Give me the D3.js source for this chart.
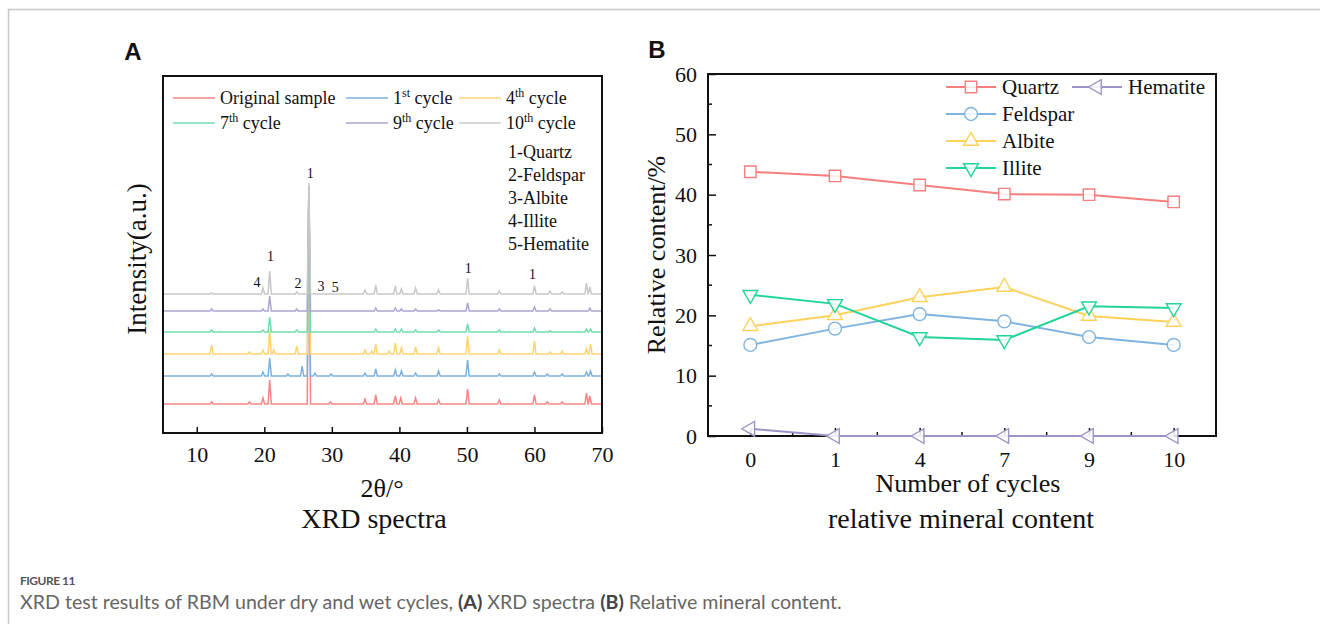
<!DOCTYPE html>
<html>
<head>
<meta charset="utf-8">
<script src="https://cdn.jsdelivr.net/npm/d3@7/dist/d3.min.js"></script>
<style>
  body { margin: 0; background: #fff; }
  svg text { font-family: "Liberation Serif", "Times New Roman", serif; fill: #111; }
  svg .cap { font-family: Lato, "Open Sans", sans-serif; }
  svg .panel { font-family: "Liberation Sans", Arial, sans-serif; font-weight: bold; }
</style>
</head>
<body>
<svg width="1320" height="624"></svg>
<script>
// ---- panel A : XRD spectra (peaks, [2theta, height]) ----
var spectraNames = ["Original sample", "1st cycle", "4th cycle", "7th cycle", "9th cycle", "10th cycle"];
var spectraColors = ["#f98585", "#7eb0dc", "#ffd470", "#70dcae", "#aaa6d2", "#c8c8c8"];
var spectraOffsets = [29, 57, 79, 101, 122, 139];

var peaksOriginal = [[12.2,2],[17.8,2],[19.8,6],[20.8,24],[26.6,215],[29.8,2],[34.9,5],[36.5,9],[39.4,8],[40.2,6],[42.4,6],[45.8,4],[50.1,15],[54.8,4],[60.0,9],[61.9,2],[64.1,2],[67.7,11],[68.2,8]];
var peaks1st = [[12.2,2],[19.8,4],[20.8,18],[23.5,2],[25.6,10],[26.6,190],[27.5,3],[29.9,2],[34.9,3],[36.5,7],[39.4,6],[40.3,5],[42.4,3],[45.8,5],[50.1,16],[54.8,2],[60.0,4],[61.9,2],[64.1,2],[67.7,4],[68.3,5]];
var peaks4th = [[12.2,9],[17.8,2],[19.8,4],[20.8,24],[21.4,4],[24.8,8],[26.6,165],[34.9,4],[35.9,3],[36.5,10],[38.5,3],[39.4,11],[40.3,6],[42.4,7],[45.8,6],[50.1,18],[54.8,4],[60.0,13],[62.3,2],[64.1,3],[67.7,5],[68.3,10]];
var peaks7th = [[12.2,2],[19.8,2],[20.8,15],[24.8,2],[26.6,145],[36.5,3],[39.4,3],[40.3,3],[42.4,2],[45.8,2],[50.1,8],[54.8,2],[60.0,4],[62.3,1],[67.7,3],[68.3,3]];
var peaks9th = [[12.2,2],[19.8,2],[20.8,15],[24.8,2],[26.6,125],[36.5,3],[39.4,3],[40.3,2],[42.4,2],[45.8,1],[50.1,8],[54.8,2],[60.0,4],[62.3,2],[68.2,3]];
var peaks10th = [[12.2,1],[19.8,6],[20.8,23],[24.8,2],[26.6,111],[34.9,4],[36.5,9],[39.4,8],[40.3,5],[42.4,6],[45.8,4],[50.1,16],[54.8,3],[60.0,8],[62.3,3],[64.1,2],[67.7,11],[68.2,7]];
var spectraPeaks = [peaksOriginal, peaks1st, peaks4th, peaks7th, peaks9th, peaks10th];

var xTicksA = [10, 20, 30, 40, 50, 60, 70];
var peakLabelText = ["1", "1", "4", "2", "3", "5", "1", "1"];
var peakLabelTheta = [26.8, 20.9, 18.9, 25.0, 28.4, 30.5, 50.2, 59.7];
var peakLabelLevel = [260, 177, 151, 150, 147, 146, 165, 159];
var mineralList = ["1-Quartz", "2-Feldspar", "3-Albite", "4-Illite", "5-Hematite"];

// ---- panel B : relative mineral content ----
var cycles = ["0", "1", "4", "7", "9", "10"];
var quartz = [43.8, 43.1, 41.6, 40.1, 40.0, 38.8];
var feldspar = [15.1, 17.8, 20.2, 19.0, 16.4, 15.1];
var albite = [18.2, 20.0, 23.0, 24.7, 19.9, 18.9];
var illite = [23.4, 21.9, 16.4, 15.9, 21.5, 21.2];
var hematite = [1.2, 0, 0, 0, 0, 0];
var mineralNames = ["Quartz", "Feldspar", "Albite", "Illite", "Hematite"];
var mineralColors = ["#f57f7f", "#80b4de", "#fdd25a", "#22d49c", "#9b94c6"];
var yTicksB = [0, 10, 20, 30, 40, 50, 60];

var svg = d3.select("svg");

// card border
svg.append("rect").attr("x", 8.5).attr("y", 9.5).attr("width", 1330).attr("height", 640)
    .attr("fill", "none").attr("stroke", "#c8c8c8").attr("stroke-width", 1.5);

function drawA() {
  var L = 163, R = 602, T = 76, B = 433;
  var x = d3.scaleLinear().domain([5, 70]).range([L, R]);
  var y = d3.scaleLinear().domain([0, B - T]).range([B, T]);
  var g = svg.append("g");

  var line = d3.line().x(function (d) { return x(d[0]); }).y(function (d) { return y(d[1]); });
  var hw = 0.24;
  spectraPeaks.forEach(function (peaks, i) {
    var base = spectraOffsets[i];
    var pts = [[5, base]];
    peaks.forEach(function (p) {
      pts.push([p[0] - hw, base], [p[0], base + p[1]], [p[0] + hw, base]);
    });
    pts.push([70, base]);
    g.append("path").attr("d", line(pts)).attr("fill", "none")
        .attr("stroke", spectraColors[i]).attr("stroke-width", 1.5);
  });

  // peak labels
  peakLabelText.forEach(function (t, i) {
    g.append("text").attr("x", x(peakLabelTheta[i])).attr("y", y(peakLabelLevel[i]))
        .attr("dy", "0.35em").attr("text-anchor", "middle").style("font-size", "14px").text(t);
  });

  // axis
  g.append("g").attr("transform", "translate(0," + B + ")")
      .call(d3.axisBottom(x).tickValues(xTicksA).tickSizeInner(-6).tickSizeOuter(0).tickPadding(13))
      .call(function (a) {
        a.select(".domain").remove();
        a.selectAll("line").attr("stroke", "#111").attr("stroke-width", 1.5);
        a.selectAll("text").style("font-size", "22px").style("font-family", "Liberation Serif");
      });
  g.append("rect").attr("x", L).attr("y", T).attr("width", R - L).attr("height", B - T)
      .attr("fill", "none").attr("stroke", "#111").attr("stroke-width", 2);

  // legend
  var colX = [173, 346, 459], rowY = [98, 123];
  spectraNames.forEach(function (n, i) {
    var cx = colX[i % 3], cy = rowY[Math.floor(i / 3)];
    g.append("line").attr("x1", cx).attr("x2", cx + 42).attr("y1", cy).attr("y2", cy)
        .attr("stroke", spectraColors[i]).attr("stroke-width", 1.4);
    var t = g.append("text").attr("x", cx + 47).attr("y", cy).attr("dy", "0.35em").style("font-size", "18px");
    var m = n.match(/^(\d+)(st|nd|rd|th)(.*)$/);
    if (m) {
      t.append("tspan").text(m[1]);
      t.append("tspan").attr("dy", -7).style("font-size", "12px").text(m[2]);
      t.append("tspan").attr("dy", 7).text(m[3]);
    } else {
      t.text(n);
    }
  });
  mineralList.forEach(function (n, i) {
    g.append("text").attr("x", 508).attr("y", 152 + i * 23).attr("dy", "0.35em")
        .style("font-size", "18px").text(n);
  });

  g.append("text").attr("transform", "translate(137,259) rotate(-90)").attr("text-anchor", "middle")
      .attr("dy", "0.35em").style("font-size", "27px").text("Intensity(a.u.)");
  g.append("text").attr("x", 382).attr("y", 488).attr("dy", "0.35em").attr("text-anchor", "middle")
      .style("font-size", "26px").text("2θ/°");
  g.append("text").attr("x", 374).attr("y", 518).attr("dy", "0.35em").attr("text-anchor", "middle")
      .style("font-size", "28px").text("XRD spectra");
  g.append("text").attr("class", "panel").attr("x", 133).attr("y", 52).attr("dy", "0.35em")
      .attr("text-anchor", "middle").style("font-size", "24px").text("A");
}

function drawB() {
  var L = 708, R = 1216, T = 74, B = 436;
  var x = d3.scalePoint().domain(cycles).range([L, R]).padding(0.5);
  var y = d3.scaleLinear().domain([0, 60]).range([B, T]);
  var g = svg.append("g");

  // minor ticks
  var step = x.step();
  g.append("g").selectAll("line").data(cycles.slice(0, -1)).join("line")
      .attr("x1", function (d) { return x(d) + step / 2; }).attr("x2", function (d) { return x(d) + step / 2; })
      .attr("y1", B).attr("y2", B - 4).attr("stroke", "#111").attr("stroke-width", 1.5);
  g.append("g").selectAll("line").data([5, 15, 25, 35, 45, 55]).join("line")
      .attr("x1", L).attr("x2", L + 4).attr("y1", function (d) { return y(d); }).attr("y2", function (d) { return y(d); })
      .attr("stroke", "#111").attr("stroke-width", 1.5);

  g.append("g").attr("transform", "translate(0," + B + ")")
      .call(d3.axisBottom(x).tickSizeInner(-8).tickSizeOuter(0).tickPadding(15))
      .call(function (a) {
        a.select(".domain").remove();
        a.selectAll("line").attr("stroke", "#111").attr("stroke-width", 1.5);
        a.selectAll("text").style("font-size", "22px").style("font-family", "Liberation Serif");
      });
  g.append("g").attr("transform", "translate(" + L + ",0)")
      .call(d3.axisLeft(y).tickValues(yTicksB).tickSizeInner(-8).tickSizeOuter(0).tickPadding(11))
      .call(function (a) {
        a.select(".domain").remove();
        a.selectAll("line").attr("stroke", "#111").attr("stroke-width", 1.5);
        a.selectAll("text").style("font-size", "22px").style("font-family", "Liberation Serif");
      });
  g.append("rect").attr("x", L).attr("y", T).attr("width", R - L).attr("height", B - T)
      .attr("fill", "none").attr("stroke", "#111").attr("stroke-width", 2);

  var series = [quartz, feldspar, albite, illite, hematite];
  var symbols = [d3.symbolSquare, d3.symbolCircle, d3.symbolTriangle, d3.symbolTriangle, d3.symbolTriangle];
  var sizes = [130, 130, 95, 95, 95];
  var rot = [0, 0, 0, 180, -90];
  var line = d3.line().x(function (d, i) { return x(cycles[i]); }).y(function (d) { return y(d); });

  function marker(sel, i, cx, cy) {
    sel.append("path").attr("d", d3.symbol().type(symbols[i]).size(sizes[i])())
        .attr("transform", "translate(" + cx + "," + cy + ") rotate(" + rot[i] + ")")
        .attr("fill", "#fff").attr("fill-opacity", 0.85).attr("stroke", mineralColors[i]).attr("stroke-width", 1.4);
  }

  series.forEach(function (s, i) {
    g.append("path").attr("d", line(s)).attr("fill", "none")
        .attr("stroke", mineralColors[i]).attr("stroke-width", 2);
  });
  series.forEach(function (s, i) {
    s.forEach(function (v, j) { marker(g, i, x(cycles[j]), y(v)); });
  });

  // legend
  var lx = [946, 946, 946, 946, 1072], ly = [87, 114, 141, 168, 87];
  mineralNames.forEach(function (n, i) {
    g.append("line").attr("x1", lx[i]).attr("x2", lx[i] + 50).attr("y1", ly[i]).attr("y2", ly[i])
        .attr("stroke", mineralColors[i]).attr("stroke-width", 2);
    marker(g, i, lx[i] + 25, ly[i]);
    g.append("text").attr("x", lx[i] + 56).attr("y", ly[i]).attr("dy", "0.35em")
        .style("font-size", "21px").text(n);
  });

  g.append("text").attr("transform", "translate(656,255) rotate(-90)").attr("text-anchor", "middle")
      .attr("dy", "0.35em").style("font-size", "26px").text("Relative content/%");
  g.append("text").attr("x", 968).attr("y", 483).attr("dy", "0.35em").attr("text-anchor", "middle")
      .style("font-size", "26px").text("Number of cycles");
  g.append("text").attr("x", 961).attr("y", 518).attr("dy", "0.35em").attr("text-anchor", "middle")
      .style("font-size", "28px").text("relative mineral content");
  g.append("text").attr("class", "panel").attr("x", 657).attr("y", 50).attr("dy", "0.35em")
      .attr("text-anchor", "middle").style("font-size", "24px").text("B");
}

function drawCaption() {
  svg.append("text").attr("class", "cap").attr("x", 20).attr("y", 585)
      .style("font-size", "12px").style("letter-spacing", "-0.5px").style("fill", "#555")
      .style("font-weight", "bold").text("FIGURE 11");
  var t = svg.append("text").attr("class", "cap").attr("x", 20).attr("y", 609)
      .style("font-size", "19.6px").style("fill", "#666");
  t.append("tspan").text("XRD test results of RBM under dry and wet cycles, ");
  t.append("tspan").style("font-weight", "bold").style("fill", "#444").text("(A)");
  t.append("tspan").text(" XRD spectra ");
  t.append("tspan").style("font-weight", "bold").style("fill", "#444").text("(B)");
  t.append("tspan").text(" Relative mineral content.");
}

drawA();
drawB();
drawCaption();
</script>
</body>
</html>
